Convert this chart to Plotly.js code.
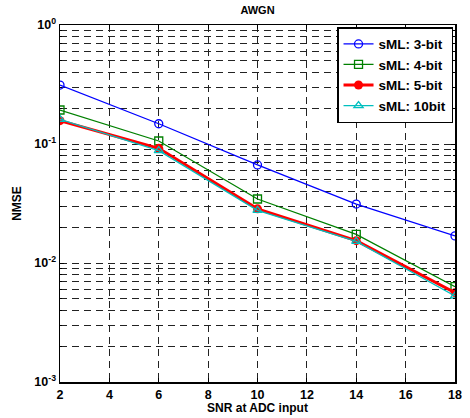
<!DOCTYPE html>
<html><head><meta charset="utf-8">
<script src="https://cdn.plot.ly/plotly-3.0.1.min.js"></script>
<style>body{margin:0;background:#fff}#c{width:470px;height:418px}</style>
</head><body><div id="c"></div>
<script>
const snr = [2, 6, 10, 14, 18];
const ml3 = [0.313, 0.148, 0.0667, 0.0313, 0.0169];
const ml4 = [0.193, 0.106, 0.0345, 0.0174, 0.00632];
const ml5 = [0.157, 0.092, 0.0285, 0.0154, 0.00563];
const ml10 = [0.161, 0.0879, 0.0277, 0.0152, 0.00528];
const names = ['sML: 3-bit', 'sML: 4-bit', 'sML: 5-bit', 'sML: 10bit'];
const xTicks = [2, 4, 6, 8, 10, 12, 14, 16, 18];
const yTicks = [0.001, 0.01, 0.1, 1];
const yTickText = ['10<sup>-3</sup>', '10<sup>-2</sup>', '10<sup>-1</sup>', '10<sup>0</sup>'];

const minorVals = [];
for (let e = -3; e < 0; e++) for (let m = 2; m <= 9; m++) minorVals.push(m * Math.pow(10, e));

const traces = [
  {x: snr, y: ml3, name: names[0], mode: 'lines+markers', line: {color: '#0000ff', width: 1.3},
   marker: {symbol: 'circle-open', size: 8, color: '#0000ff', line: {width: 1.3}}},
  {x: snr, y: ml4, name: names[1], mode: 'lines+markers', line: {color: '#008000', width: 1.3},
   marker: {symbol: 'square-open', size: 8, color: '#008000', line: {width: 1.3}}},
  {x: snr, y: ml5, name: names[2], mode: 'lines+markers', line: {color: '#ff0000', width: 3},
   marker: {symbol: 'circle', size: 9, color: '#ff0000'}},
  {x: snr, y: ml10, name: names[3], mode: 'lines+markers', line: {color: '#00bfbf', width: 1.3},
   marker: {symbol: 'triangle-up-open', size: 8, color: '#00bfbf', line: {width: 1.3}}}
];

const FONT = 'Liberation Sans, Arial, sans-serif';
const gridDash = '7px,5px';
const gridColor = '#222';
const layout = {
  width: 470, height: 418,
  margin: {l: 60, r: 15, t: 25, b: 36},
  paper_bgcolor: '#fff', plot_bgcolor: '#fff',
  font: {family: FONT, size: 12.5, color: '#000'},
  title: {text: 'AWGN', x: 0.5, xref: 'paper', y: 0.985, yanchor: 'top', font: {size: 11, weight: 'bold'}},
  showlegend: true,
  legend: {x: 0.995, y: 0.994, xanchor: 'right', yanchor: 'top', bgcolor: '#fff',
           bordercolor: '#000', borderwidth: 1.5, font: {size: 13.5, family: FONT, weight: 'bold'},
           tracegroupgap: 0, itemwidth: 30},
  xaxis: {
    range: [2, 18], tickmode: 'array', tickvals: xTicks, ticktext: xTicks.map(String),
    tickfont: {size: 12.5, weight: 'bold'},
    showline: true, linecolor: '#000', linewidth: 1.5, mirror: 'ticks',
    ticks: 'inside', ticklen: 4, tickcolor: '#000',
    showgrid: true, gridcolor: gridColor, gridwidth: 1, griddash: gridDash, zeroline: false,
    title: {text: 'SNR at ADC input', font: {size: 12, weight: 'bold'}, standoff: 2}
  },
  yaxis: {
    type: 'log', range: [-3, 0], tickmode: 'array', tickvals: yTicks, ticktext: yTickText,
    tickfont: {size: 12.5, weight: 'bold'},
    showline: true, linecolor: '#000', linewidth: 1.5, mirror: 'ticks',
    ticks: 'inside', ticklen: 4, tickcolor: '#000',
    showgrid: true, gridcolor: gridColor, gridwidth: 1, griddash: gridDash, zeroline: false,
    minor: {tickmode: 'array', tickvals: minorVals, ticks: 'inside', ticklen: 2, tickcolor: '#000',
            showgrid: true, gridcolor: gridColor, gridwidth: 1, griddash: gridDash},
    title: {text: 'NMSE', font: {size: 12, weight: 'bold'}, standoff: 10}
  }
};
Plotly.newPlot('c', traces, layout, {displayModeBar: false, staticPlot: true});
</script></body></html>
